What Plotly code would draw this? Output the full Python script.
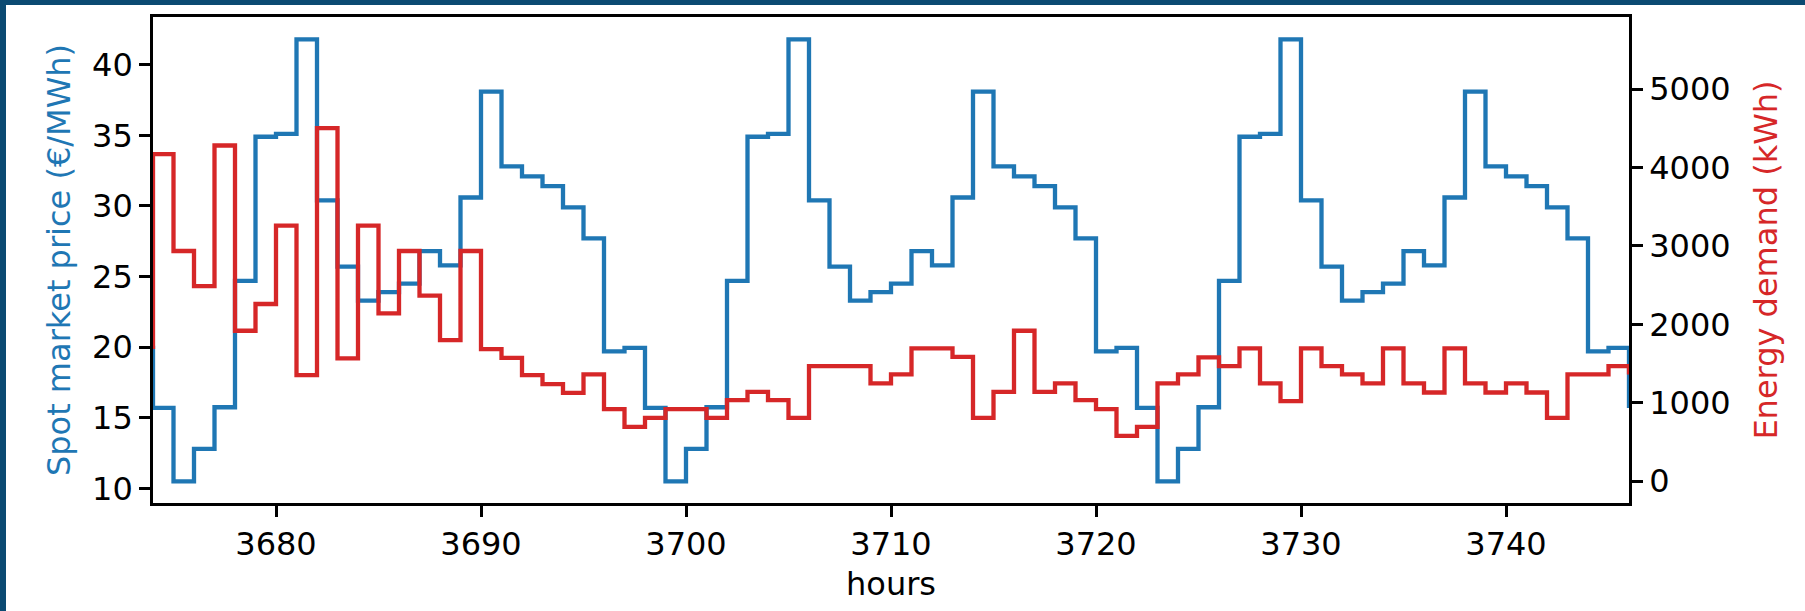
import plotly.graph_objects as go

# ---- data ----
hours = list(range(3673, 3747))

price = [
    19.95,
    15.7, 10.5, 12.8, 15.75, 24.7, 34.9, 35.1, 41.8, 30.4, 25.7, 23.3, 23.9,
    24.5, 26.8, 25.8, 30.6, 38.1, 32.8, 32.1, 31.4, 29.9, 27.7, 19.7, 19.95,
    15.7, 10.5, 12.8, 15.75, 24.7, 34.9, 35.1, 41.8, 30.4, 25.7, 23.3, 23.9,
    24.5, 26.8, 25.8, 30.6, 38.1, 32.8, 32.1, 31.4, 29.9, 27.7, 19.7, 19.95,
    15.7, 10.5, 12.8, 15.75, 24.7, 34.9, 35.1, 41.8, 30.4, 25.7, 23.3, 23.9,
    24.5, 26.8, 25.8, 30.6, 38.1, 32.8, 32.1, 31.4, 29.9, 27.7, 19.7, 19.95,
    15.7,
]

energy = [
    1715,
    4170, 2936, 2489, 4281, 1919, 2260, 3260, 1353, 4502, 1566, 3260, 2140,
    2936, 2366, 1800, 2936, 1685, 1574, 1353, 1238, 1128, 1362, 919, 694,
    809, 919, 919, 809, 1034, 1140, 1034, 809, 1468, 1468, 1468, 1247,
    1362, 1694, 1694, 1587, 809, 1140, 1919, 1140, 1247, 1034, 919, 579,
    694, 1247, 1362, 1579, 1468, 1694, 1247, 1021, 1694, 1468, 1362, 1247,
    1694, 1247, 1132, 1694, 1247, 1132, 1247, 1132, 809, 1362, 1362, 1468,
    1362,
]

x_range = [3674, 3746]
price_range = [8.97, 43.38]
energy_range = [-277, 5919]

BLUE = "#1f77b4"
RED = "#d62728"
FONT = "DejaVu Sans"
FS = 32

fig = go.Figure()
fig.add_trace(go.Scatter(x=hours, y=price, mode="lines", yaxis="y",
                         line=dict(shape="hv", color=BLUE, width=4.3),
                         showlegend=False, name="Spot market price"))
fig.add_trace(go.Scatter(x=hours, y=energy, mode="lines", yaxis="y2",
                         line=dict(shape="hv", color=RED, width=4.3),
                         showlegend=False, name="Energy demand"))

axis_common = dict(showline=True, linecolor="black", linewidth=2.6,
                   ticks="outside", ticklen=11, tickwidth=2.6, tickcolor="black",
                   showgrid=False, zeroline=False,
                   tickfont=dict(family=FONT, size=FS, color="black"))

fig.update_layout(
    width=1805, height=611,
    margin=dict(l=153, r=176, t=17, b=108, pad=0),
    paper_bgcolor="white", plot_bgcolor="white",
    font=dict(family=FONT, size=FS, color="black"),
    xaxis=dict(range=x_range, tickmode="linear", tick0=3680, dtick=10, mirror=True,
               title=dict(text="hours", font=dict(family=FONT, size=FS, color="black"), standoff=11),
               **axis_common),
    yaxis=dict(range=price_range, tickmode="linear", tick0=10, dtick=5,
               title=dict(text="Spot market price (€/MWh)", font=dict(family=FONT, size=FS, color=BLUE), standoff=12),
               **axis_common),
    yaxis2=dict(range=energy_range, tickmode="linear", tick0=0, dtick=1000,
                overlaying="y", side="right",
                title=dict(text="Energy demand (kWh)", font=dict(family=FONT, size=FS, color=RED), standoff=25),
                **axis_common),
    shapes=[
        dict(type="rect", xref="paper", yref="paper", layer="above",
             xsizemode="pixel", ysizemode="pixel", xanchor=0, yanchor=1,
             x0=-200, x1=1800, y0=12, y1=40, fillcolor="#0b4a72", line=dict(width=0)),
        dict(type="rect", xref="paper", yref="paper", layer="above",
             xsizemode="pixel", ysizemode="pixel", xanchor=0, yanchor=1,
             x0=-200, x1=-147, y0=-700, y1=40, fillcolor="#0b4a72", line=dict(width=0)),
    ],
)

fig.write_html("out.html", config={"displayModeBar": False},
               post_script="document.body.style.margin='0';document.body.style.overflow='hidden';")
